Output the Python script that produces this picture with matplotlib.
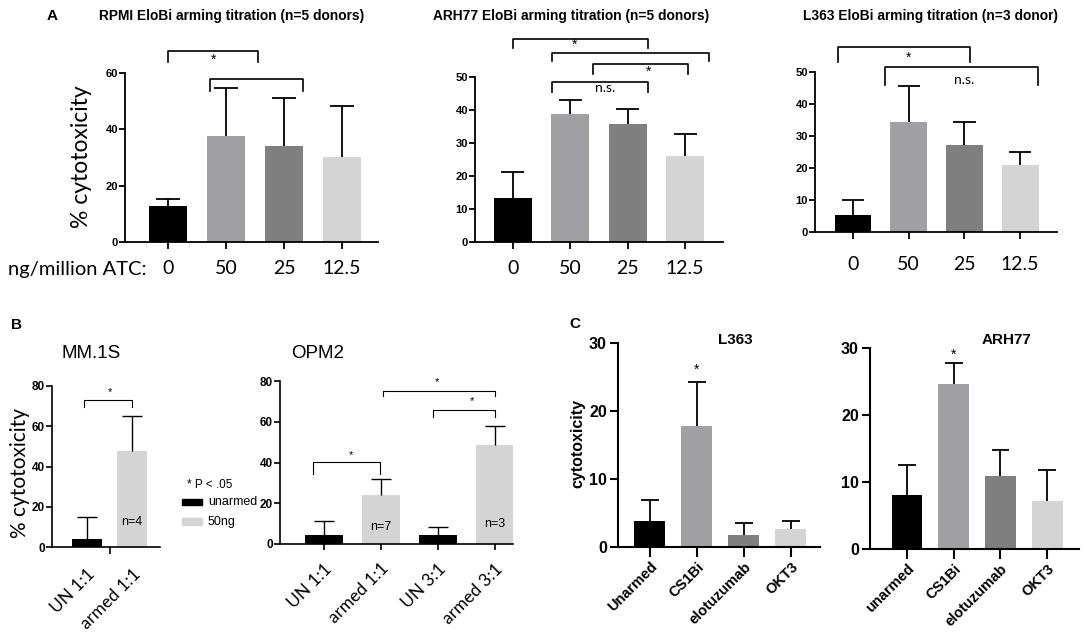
import numpy as np
import matplotlib
matplotlib.use('Agg')
import matplotlib.pyplot as plt

plt.rcParams['font.family'] = ['Liberation Sans', 'DejaVu Sans']
W, H = 1084, 635
CAL = 'Lato'

# ---- panel A: EloBi arming titration ----
a_doses = ['0', '50', '25', '12.5']
rpmi_mean = [12.7, 37.8, 34.2, 30.2]
rpmi_sem = [2.6, 16.9, 16.9, 18.1]
arh_a_mean = [13.2, 38.9, 35.9, 26.0]
arh_a_sem = [8.0, 4.2, 4.4, 6.8]
l363_a_mean = [5.2, 34.4, 27.3, 21.0]
l363_a_sem = [4.9, 11.1, 7.1, 4.0]

# ---- panel B ----
mm1s_groups = ['UN 1:1', 'armed 1:1']
mm1s_mean = [4.1, 47.6]
mm1s_sem = [11.0, 17.6]
mm1s_n = ['', 'n=4']
opm2_groups = ['UN 1:1', 'armed 1:1', 'UN 3:1', 'armed 3:1']
opm2_mean = [4.6, 24.1, 4.6, 48.5]
opm2_sem = [6.5, 7.8, 3.5, 9.2]
opm2_n = ['', 'n=7', '', 'n=3']

# ---- panel C ----
c_l363_groups = ['Unarmed', 'CS1Bi', 'elotuzumab', 'OKT3']
c_l363_mean = [3.8, 17.8, 1.7, 2.7]
c_l363_sem = [3.1, 6.5, 1.9, 1.1]
c_arh_groups = ['unarmed', 'CS1Bi', 'elotuzumab', 'OKT3']
c_arh_mean = [8.1, 24.7, 10.9, 7.1]
c_arh_sem = [4.4, 3.0, 3.9, 4.7]

# significance brackets: (x1, x2, top, drop) and labels: (x, y, text)
rpmi_brk = [(0, 1.55, 67.8, 3.9), (0.72, 2.33, 57.9, 4.3)]
rpmi_sig = [(0.78, 64.6, '*')]
arh_a_brk = [(0, 2.35, 61.5, 2.7), (0.68, 3.42, 57.3, 2.5),
             (1.4, 3.05, 53.9, 3.0), (0.68, 2.35, 48.5, 3.0)]
arh_a_sig = [(1.08, 59.7, '*'), (2.36, 51.5, '*'), (1.6, 46.7, 'n.s.')]
l363_a_brk = [(-0.27, 2.1, 57.8, 4.7), (0.57, 3.32, 51.6, 5.7)]
l363_a_sig = [(0.99, 54.4, '*'), (2.0, 47.5, 'n.s.')]
mm1s_brk = [(-0.07, 0.99, 73.0, 3.6)]
mm1s_sig = [(0.51, 77.2, '*')]
opm2_brk = [(-0.19, 0.99, 40.3, 5.7), (1.03, 3.0, 75.3, 2.5), (1.91, 3.0, 65.9, 3.6)]
opm2_sig = [(0.47, 43.6, '*'), (1.98, 79.3, '*'), (2.6, 70.1, '*')]
c_l363_sig = [(1, 26.1, '*')]
c_arh_sig = [(1, 29.0, '*')]

GRAY4 = ['#000000', '#a0a0a4', '#7f7f7f', '#d4d4d4']
GRAYB2 = ['#000000', '#d4d4d4']
GRAYB4 = ['#000000', '#d4d4d4', '#000000', '#d4d4d4']

fig = plt.figure(figsize=(W / 100, H / 100), dpi=100)


def px_axes(left, top, right, bottom):
    return fig.add_axes([left / W, 1 - bottom / H, (right - left) / W, (bottom - top) / H])


def ftext(x, y, s, **kw):
    fig.text(x / W, 1 - y / H, s, **kw)


def bars(ax, mean, sem, colors, lw, cap=0.2, width=0.66):
    x = np.arange(len(mean))
    top = np.array(mean) + np.array(sem)
    ax.bar(x, mean, width=width, color=colors, zorder=2)
    ax.vlines(x, mean, top, color='black', lw=lw, zorder=3)
    ax.hlines(top, x - cap, x + cap, color='black', lw=lw, zorder=3)
    return x


def brackets(ax, brk, sig, lw, fs, family=None):
    for x1, x2, y, d in brk:
        ax.plot([x1, x1, x2, x2], [y - d, y, y, y - d], color='black', lw=lw, clip_on=False)
    for x, y, s in sig:
        ax.text(x, y, s, ha='center', va='center', fontsize=fs, clip_on=False,
                family=family if s != '*' else None)


def style(ax, lw):
    for s in ['top', 'right']:
        ax.spines[s].set_visible(False)
    for s in ['left', 'bottom']:
        ax.spines[s].set_linewidth(lw)
    ax.tick_params(width=lw, length=5)


# ---------------- Panel A ----------------
a_specs = [
    ((125, 73, 378, 242), (-0.74, 3.62), 60, [0, 20, 40, 60], rpmi_mean, rpmi_sem, rpmi_brk, rpmi_sig, 8),
    ((475, 77, 723, 242), (-0.66, 3.66), 50, [0, 10, 20, 30, 40, 50], arh_a_mean, arh_a_sem, arh_a_brk, arh_a_sig, 8),
    ((815, 72, 1057, 232), (-0.68, 3.66), 50, [0, 10, 20, 30, 40, 50], l363_a_mean, l363_a_sem, l363_a_brk, l363_a_sig, 12),
]
for box, xl, ym, yt, mean, sem, brk, sig, pad in a_specs:
    ax = px_axes(*box)
    x = bars(ax, mean, sem, GRAY4, 1.3)
    style(ax, 1.3)
    ax.set_xlim(*xl)
    ax.set_ylim(0, ym)
    ax.set_yticks(yt)
    ax.set_yticklabels([str(v) for v in yt], fontsize=8, fontweight='bold')
    ax.tick_params(axis='y', length=4, pad=1)
    ax.set_xticks(x)
    ax.set_xticklabels(a_doses, fontsize=14, family=CAL)
    ax.tick_params(axis='x', pad=pad)
    brackets(ax, brk, sig, 1.2, 10, CAL)

ftext(82, 157, '% cytotoxicity', fontsize=16.5, family=CAL, rotation=90, ha='center', va='center')
ftext(52, 16, 'A', fontsize=11, fontweight='bold', ha='center', va='center')
ftext(232, 16, 'RPMI EloBi arming titration (n=5 donors)', fontsize=9.9, fontweight='bold', ha='center', va='center')
ftext(571, 16, 'ARH77 EloBi arming titration (n=5 donors)', fontsize=9.9, fontweight='bold', ha='center', va='center')
ftext(930, 16, 'L363 EloBi arming titration (n=3 donor)', fontsize=9.9, fontweight='bold', ha='center', va='center')
ftext(8, 270, 'ng/million ATC:', fontsize=14.5, family=CAL, ha='left', va='center')

# ---------------- Panel B ----------------
ax = px_axes(52, 386, 160, 547)
x = bars(ax, mm1s_mean, mm1s_sem, GRAYB2, 1.0, cap=0.22, width=0.67)
style(ax, 1.2)
ax.set_xlim(-0.78, 1.62)
ax.set_ylim(0, 80)
ax.set_yticks([0, 20, 40, 60, 80])
ax.set_yticklabels(['0', '20', '40', '60', '80'], fontsize=8.5, fontweight='bold')
ax.tick_params(axis='y', length=4, pad=1)
ax.set_xticks(x)
ax.set_xticklabels(mm1s_groups, fontsize=12.5, family=CAL, rotation=45, ha='right',
                   rotation_mode='anchor')
ax.tick_params(axis='x', which='major', length=0, pad=14)
ax.set_xticks([0.5], minor=True)
ax.tick_params(axis='x', which='minor', length=5, width=1.2)
for xi, n in zip(x, mm1s_n):
    if n:
        ax.text(xi, 12.4, n, ha='center', va='center', fontsize=9)
brackets(ax, mm1s_brk, mm1s_sig, 0.8, 8)

ax = px_axes(280, 381, 513, 544)
x = bars(ax, opm2_mean, opm2_sem, GRAYB4, 1.0, cap=0.18, width=0.66)
style(ax, 1.2)
ax.set_xlim(-0.77, 3.32)
ax.set_ylim(0, 80)
ax.set_yticks([0, 20, 40, 60, 80])
ax.set_yticklabels(['0', '20', '40', '60', '80'], fontsize=8.5, fontweight='bold')
ax.tick_params(axis='y', length=4, pad=1)
ax.set_xticks(x)
ax.set_xticklabels(opm2_groups, fontsize=12.5, family=CAL, rotation=45, ha='right',
                   rotation_mode='anchor')
ax.tick_params(axis='x', length=4, pad=8)
for xi, n, ny in zip(x, opm2_n, [0, 8.3, 0, 9.8]):
    if n:
        ax.text(xi, ny, n, ha='center', va='center', fontsize=9)
brackets(ax, opm2_brk, opm2_sig, 0.8, 8)

ftext(20, 473, '% cytotoxicity', fontsize=15, family=CAL, rotation=90, ha='center', va='center')
ftext(17, 325, 'B', fontsize=11, fontweight='bold', ha='center', va='center')
ftext(91, 353, 'MM.1S', fontsize=13.5, ha='center', va='center')
ftext(318, 353, 'OPM2', fontsize=13.5, ha='center', va='center')

# legend (panel B)
ftext(187, 485, '* P < .05', fontsize=8.5, ha='left', va='center')
fig.patches.append(plt.Rectangle((182 / W, 1 - 505 / H), 20 / W, 6 / H,
                                 transform=fig.transFigure, color='#000000'))
fig.patches.append(plt.Rectangle((182 / W, 1 - 525 / H), 20 / W, 7 / H,
                                 transform=fig.transFigure, color='#d4d4d4'))
ftext(208, 502, 'unarmed', fontsize=9, ha='left', va='center')
ftext(208, 522, '50ng', fontsize=9, ha='left', va='center')

# ---------------- Panel C ----------------
c_specs = [
    ((618, 343, 820, 547), (-0.68, 3.62), c_l363_groups, c_l363_mean, c_l363_sem, c_l363_sig, 'L363', 735),
    ((870, 348, 1079, 549), (-0.79, 3.68), c_arh_groups, c_arh_mean, c_arh_sem, c_arh_sig, 'ARH77', 1006),
]
for box, xl, groups, mean, sem, sig, title, tx in c_specs:
    ax = px_axes(*box)
    x = bars(ax, mean, sem, GRAY4, 1.3, cap=0.19, width=0.66)
    style(ax, 1.5)
    ax.set_xlim(*xl)
    ax.set_ylim(0, 30)
    ax.set_yticks([0, 10, 20, 30])
    ax.set_yticklabels(['0', '10', '20', '30'], fontsize=11.5, fontweight='bold')
    ax.tick_params(axis='y', length=6, pad=2)
    ax.set_xticks(x)
    ax.set_xticklabels(groups, fontsize=10.5, fontweight='bold', rotation=45, ha='right',
                       rotation_mode='anchor')
    ax.tick_params(axis='x', length=7, pad=2)
    brackets(ax, [], sig, 1.0, 10)
    ftext(tx, 340, title, fontsize=11, fontweight='bold', ha='center', va='center')

ftext(578, 443, 'cytotoxicity', fontsize=11.5, fontweight='bold', rotation=90, ha='center', va='center')
ftext(575, 324, 'C', fontsize=11, fontweight='bold', ha='center', va='center')

fig.savefig('out.png', dpi=100)
